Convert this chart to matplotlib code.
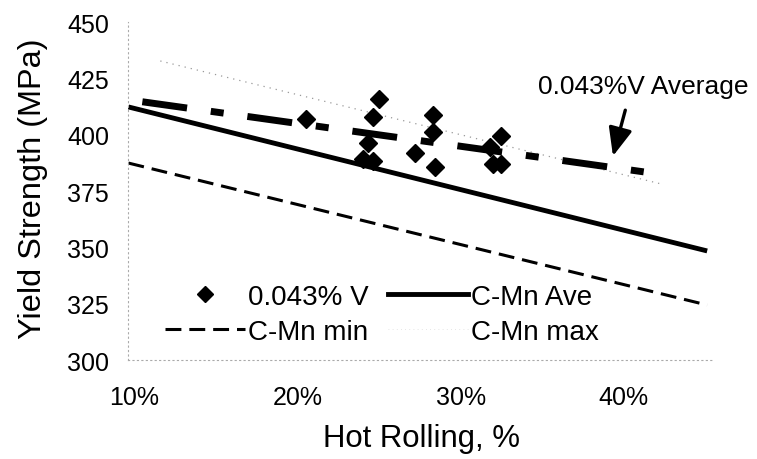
import matplotlib
matplotlib.use("Agg")
import matplotlib.pyplot as plt
from matplotlib.lines import Line2D

plt.rcParams['font.family'] = ['Liberation Sans', 'DejaVu Sans']

# 0.043% V measured points (hot rolling %, yield strength MPa)
v_rolling = [20.5, 25.0, 24.6, 24.3, 24.0, 24.6, 27.2, 28.3, 28.3, 28.4, 32.5, 31.8, 32.0, 32.5]
v_strength = [407.0, 415.8, 407.7, 396.2, 389.2, 388.5, 391.7, 408.9, 401.1, 385.8, 399.6, 394.4, 387.0, 387.0]

# trend lines, end points
ave_x = [9.65, 45.1]
ave_y = [412.3, 348.4]
min_x = [9.65, 45.1]
min_y = [387.4, 324.4]
max_x = [11.6, 42.3]
max_y = [432.7, 378.1]
vavg_x = [10.5, 41.7]
vavg_y = [414.6, 383.0]

xticks = [10, 20, 30, 40]
xticklabels = ['10%', '20%', '30%', '40%']
yticks = [300, 325, 350, 375, 400, 425, 450]

fig = plt.figure(figsize=(7.57, 4.6), dpi=100)
ax = fig.add_axes([0.1697, 0.2152, 0.7731, 0.7348])

ax.plot(max_x, max_y, color='#999999', lw=0.9, linestyle=(0, (1, 4)))
ax.plot(min_x, min_y, color='black', lw=2.2, linestyle=(0, (5.2, 2.6)))
ax.plot(ave_x, ave_y, color='black', lw=3.5, solid_capstyle='butt')
ax.plot(vavg_x, vavg_y, color='black', lw=5, linestyle=(0, (6.5, 3.45, 1.87, 3.45)))
ax.plot(v_rolling, v_strength, linestyle='none', marker='D', ms=9, color='black')

ax.set_xlim(9.65, 45.5)
ax.set_ylim(300, 450)
ax.set_xticks(xticks)
ax.set_xticklabels(xticklabels)
ax.set_yticks(yticks)
ax.tick_params(axis='both', length=0, labelsize=18)
ax.tick_params(axis='y', pad=14)
ax.tick_params(axis='x', pad=18)

for side in ['top', 'right']:
    ax.spines[side].set_visible(False)
for side in ['left', 'bottom']:
    ax.spines[side].set_color('#aaaaaa')
    ax.spines[side].set_linewidth(0.8)
    ax.spines[side].set_linestyle((0, (1, 3)))

ax.set_xlabel('Hot Rolling, %', fontsize=22.4)
ax.xaxis.set_label_coords(0.5, -0.185)
ax.set_ylabel('Yield Strength (MPa)', fontsize=23.4)
ax.yaxis.set_label_coords(-0.137, 0.51)

ax.annotate('0.043%V Average', xy=(39.33, 390.5), xytext=(34.74, 421.6),
            fontsize=19, ha='left', va='center',
            arrowprops=dict(arrowstyle='-|>,head_length=0.95,head_width=0.4',
                            mutation_scale=18, lw=2.4, color='black',
                            relpos=(0.43, 0.0), shrinkA=7, shrinkB=0))

handles = [
    Line2D([], [], linestyle='none', marker='D', ms=8, color='black'),
    Line2D([], [], color='black', lw=2.2, linestyle=(0, (5.2, 2.6))),
    Line2D([], [], color='black', lw=3.5),
    Line2D([], [], color='#dddddd', lw=0.6, linestyle=(0, (1, 4))),
]
labels = ['0.043% V', 'C-Mn min', 'C-Mn Ave', 'C-Mn max']
ax.legend(handles, labels, ncol=2, frameon=False, fontsize=20,
          loc='upper left', bbox_to_anchor=(0.062, 0.225),
          borderpad=0, borderaxespad=0, handlelength=2.88,
          handletextpad=0.12, columnspacing=0.7, labelspacing=0.33)

fig.savefig('out.png', dpi=100)
